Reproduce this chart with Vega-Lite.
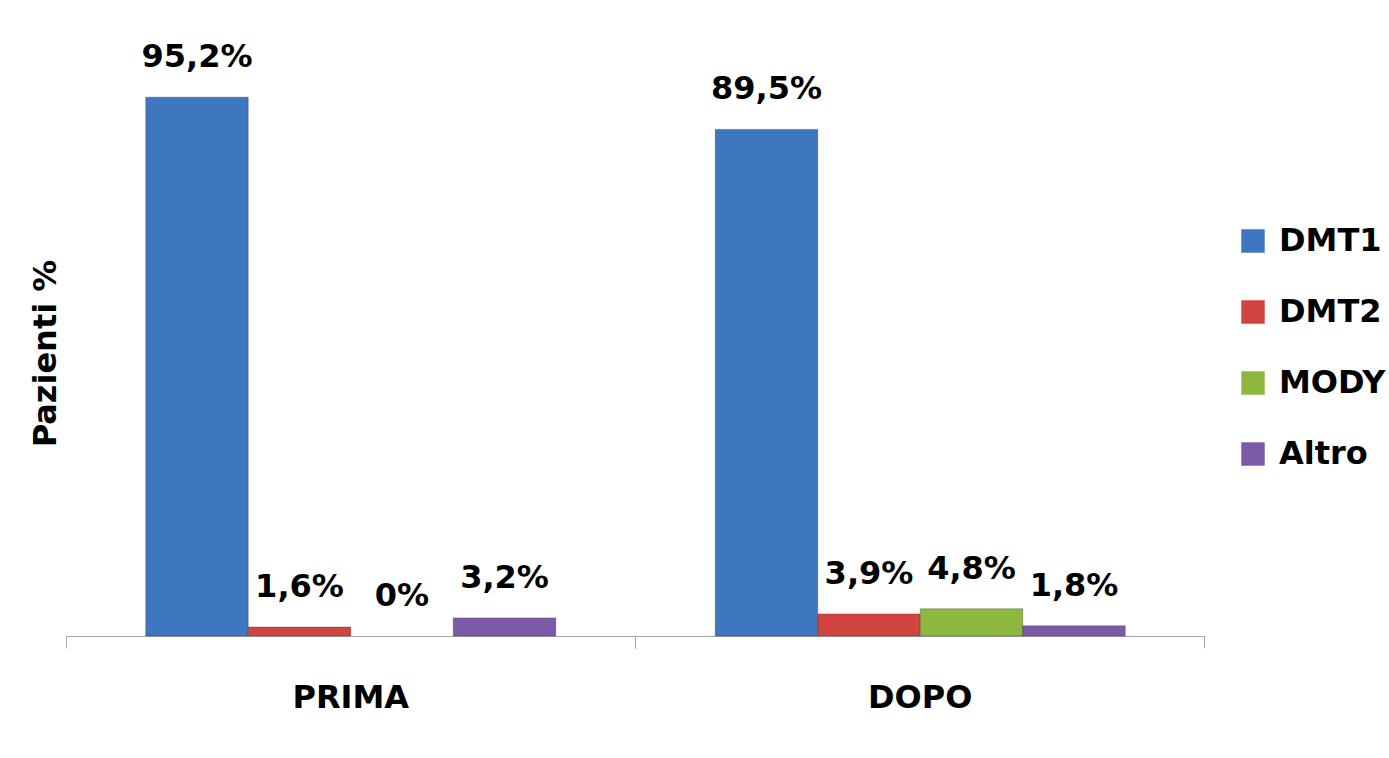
{
  "$schema": "https://vega.github.io/schema/vega-lite/v6.json",
  "width": 1139,
  "height": 566,
  "autosize": {"type": "none"},
  "padding": {"left": 66, "top": 70, "right": 184, "bottom": 122},
  "background": "white",
  "config": {"font": "DejaVu Sans", "view": {"stroke": null}},
  "data": {
    "values": [
      {"periodo": "PRIMA", "tipo": "DMT1", "valore": 95.2, "etichetta": "95,2%"},
      {"periodo": "PRIMA", "tipo": "DMT2", "valore": 1.6, "etichetta": "1,6%"},
      {"periodo": "PRIMA", "tipo": "MODY", "valore": 0, "etichetta": "0%"},
      {"periodo": "PRIMA", "tipo": "Altro", "valore": 3.2, "etichetta": "3,2%"},
      {"periodo": "DOPO", "tipo": "DMT1", "valore": 89.5, "etichetta": "89,5%"},
      {"periodo": "DOPO", "tipo": "DMT2", "valore": 3.9, "etichetta": "3,9%"},
      {"periodo": "DOPO", "tipo": "MODY", "valore": 4.8, "etichetta": "4,8%"},
      {"periodo": "DOPO", "tipo": "Altro", "valore": 1.8, "etichetta": "1,8%"}
    ]
  },
  "encoding": {
    "y": {
      "field": "valore",
      "type": "quantitative",
      "scale": {"domain": [0, 100]},
      "axis": {
        "title": "Pazienti %",
        "titleFontSize": 32,
        "titleFontWeight": "bold",
        "titleColor": "black",
        "titlePadding": 4,
        "domain": false,
        "ticks": false,
        "labels": false,
        "grid": false
      }
    },
    "xOffset": {
      "field": "tipo",
      "type": "nominal",
      "sort": ["DMT1", "DMT2", "MODY", "Altro"],
      "scale": {"paddingInner": 0, "paddingOuter": 0}
    }
  },
  "layer": [
    {
      "mark": {"type": "bar", "stroke": "black", "strokeWidth": 1},
      "encoding": {
        "x": {
          "field": "periodo",
          "type": "nominal",
          "sort": ["PRIMA", "DOPO"],
          "scale": {"paddingInner": 0.28, "paddingOuter": 0.14},
          "axis": {
            "title": null,
            "labelAngle": 0,
            "labelFontSize": 32,
            "labelFontWeight": "bold",
            "labelColor": "black",
            "labelPadding": 34,
            "ticks": true,
            "tickSize": 12,
            "tickColor": "#a6a6a6",
            "domainColor": "#a6a6a6",
            "bandPosition": -0.194
          }
        },
        "strokeOpacity": {"condition": {"test": "datum.valore > 0", "value": 0.25}, "value": 0},
        "color": {
          "field": "tipo",
          "type": "nominal",
          "sort": ["DMT1", "DMT2", "MODY", "Altro"],
          "scale": {
            "domain": ["DMT1", "DMT2", "MODY", "Altro"],
            "range": ["#3E76C0", "#D2443F", "#8DB83F", "#7D5AA8"]
          },
          "legend": {
            "title": null,
            "orient": "none",
            "legendX": 1171,
            "legendY": 155,
            "labelFontSize": 32,
            "labelFontWeight": "bold",
            "labelColor": "black",
            "symbolType": "square",
            "symbolSize": 550,
            "symbolStrokeWidth": 0,
            "rowPadding": 39,
            "labelOffset": 10
          }
        }
      }
    },
    {
      "mark": {"type": "text", "fontSize": 32, "fontWeight": "bold", "baseline": "alphabetic", "dy": -30, "color": "black"},
      "encoding": {
        "x": {
          "field": "periodo",
          "type": "nominal",
          "sort": ["PRIMA", "DOPO"],
          "axis": {
            "orient": "bottom",
            "title": null,
            "labels": false,
            "domain": false,
            "ticks": true,
            "tickSize": 12,
            "tickColor": "#a6a6a6",
            "bandPosition": 1.194
          }
        },
        "text": {"field": "etichetta"}
      }
    }
  ],
  "resolve": {"axis": {"x": "independent"}}
}
